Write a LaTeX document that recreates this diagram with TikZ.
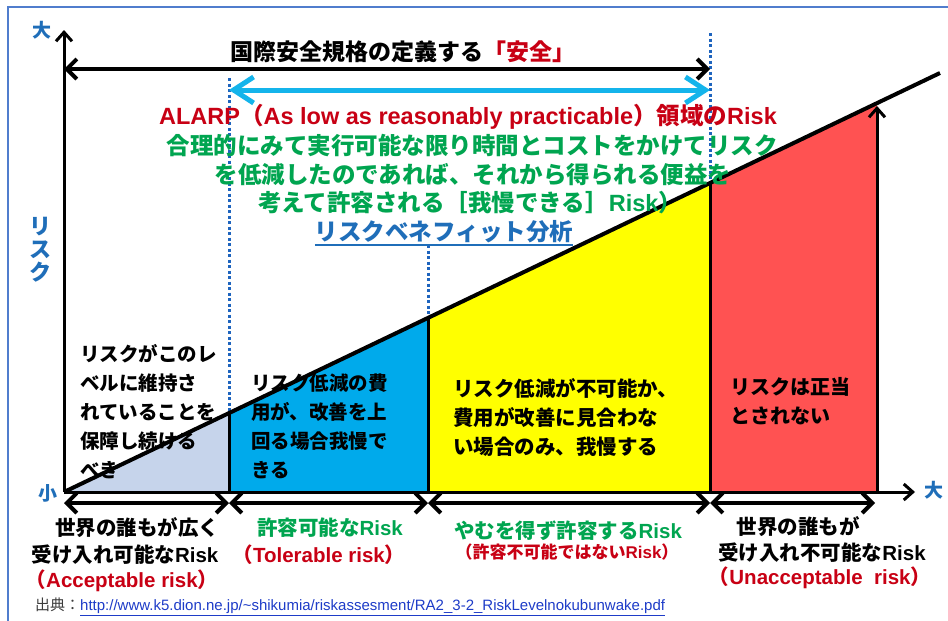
\documentclass[tikz,border=0pt]{standalone}
\usepackage{fontspec}
\setmainfont{Noto Sans CJK JP}
\newfontfamily\latf{Liberation Sans}[UprightFont={* Bold},BoldFont={* Bold}]
\newfontfamily\latr{Liberation Sans}
\newcommand{\eng}[1]{{\latf #1}}
\newcommand{\fs}[2]{\fontsize{#1}{#2}\selectfont}
\usetikzlibrary{arrows.meta}
\definecolor{jred}{RGB}{200,0,20}
\definecolor{jgreen}{RGB}{0,165,80}
\definecolor{jblue}{RGB}{31,110,185}
\definecolor{framec}{RGB}{80,125,205}
\definecolor{cyanarr}{RGB}{20,180,235}
\definecolor{accc}{RGB}{198,212,235}
\definecolor{tolc}{RGB}{0,170,235}
\definecolor{yelc}{RGB}{255,255,0}
\definecolor{unac}{RGB}{255,82,82}
\definecolor{dotc}{RGB}{30,100,190}
\definecolor{linkc}{RGB}{30,60,200}
\definecolor{srcgray}{RGB}{60,60,60}
\begin{document}
\begin{tikzpicture}[x=1pt,y=-1pt,
  axis/.style={line width=3pt,-{Straight Barb[length=9pt,width=16pt]}},
  barb/.style={line width=4pt,{Straight Barb[length=10pt,width=20pt]}-{Straight Barb[length=10pt,width=20pt]}},
  cyanbarb/.style={cyanarr,line width=5pt,{Straight Barb[length=20pt,width=26pt]}-{Straight Barb[length=20pt,width=26pt]}},
  edge/.style={line width=3pt},
  riskline/.style={line width=4pt},
  dotline/.style={dotc,line width=3pt,dash pattern=on 3pt off 2.5pt},
  txt/.style={inner sep=0pt,font=\bfseries\fs{23.5}{28}},
  region/.style={inner sep=0pt,align=left,anchor=north west,font=\bfseries\fs{19.5}{29}},
  bot/.style={inner sep=0pt,font=\bfseries\fs{20.5}{26}},
  axlbl/.style={inner sep=0pt,text=jblue,font=\bfseries\fs{19}{22}}
]
\useasboundingbox (0,0) rectangle (948,621);
\fill[white] (0,0) rectangle (948,621);
\begin{scope}
\clip (0,0) rectangle (948,621);
\draw[framec,line width=1.6pt] (8,7) rectangle (1000,700);
\end{scope}

% geometry
\coordinate (O) at (64,492);
\coordinate (Yt) at (64,30);
\coordinate (Xe) at (915,492);
\coordinate (P1) at (229,413.1);
\coordinate (P2) at (428,318);
\coordinate (P3) at (710,183.2);
\coordinate (P4) at (877,103.4);
\coordinate (P4a) at (877,106);
\coordinate (Lend) at (940,73);
\coordinate (B1) at (229,492);
\coordinate (B2) at (428,492);
\coordinate (B3) at (710,492);
\coordinate (B4) at (877,492);
\coordinate (D1t) at (229,78);
\coordinate (D2t) at (428,245);
\coordinate (D3t) at (710,33);
\coordinate (T1l) at (64,69);
\coordinate (T1r) at (710,69);
\coordinate (T2l) at (229,90);
\coordinate (T2r) at (710,90);
\coordinate (A0) at (64,503);
\coordinate (A1) at (229,503);
\coordinate (A2) at (428,503);
\coordinate (A3) at (710,503);
\coordinate (A4) at (875,503);

% regions
\fill[accc] (O) -- (P1) -- (B1) -- cycle;
\fill[tolc] (P1) -- (P2) -- (B2) -- (B1) -- cycle;
\fill[yelc] (P2) -- (P3) -- (B3) -- (B2) -- cycle;
\fill[unac] (P3) -- (P4) -- (B4) -- (B3) -- cycle;

% dotted lines
\draw[dotline] (D1t) -- (P1);
\draw[dotline] (D2t) -- (P2);
\draw[dotline] (D3t) -- (P3);

% boundaries
\draw[edge] (P1) -- (B1);
\draw[edge] (P2) -- (B2);
\draw[edge] (P3) -- (B3);
\draw[axis] (B4) -- (P4a);
\draw[riskline] (O) -- (Lend);
\draw[axis] (O) -- (Yt);
\draw[axis] (O) -- (Xe);

% arrows
\draw[barb] (T1l) -- (T1r);
\draw[cyanbarb] (T2l) -- (T2r);
\draw[barb] (A0) -- (A1);
\draw[barb] (A1) -- (A2);
\draw[barb] (A2) -- (A3);
\draw[barb] (A3) -- (A4);

% axis labels
\node[axlbl] (ybig) at (42,30) {大};
\node[axlbl] (ysmall) at (48,493) {小};
\node[axlbl] (xbig) at (934,490) {大};
\node[inner sep=0pt,text=jblue,align=center,font=\bfseries\fs{22}{23}] (risk) at (40,250) {リ\\ス\\ク};

% top texts
\node[txt,font=\bfseries\fs{23}{28}] (title) at (403,52) {国際安全規格の定義する\textcolor{jred}{「安全」}};
\node[txt,text=jred] (alarp) at (468,117) {\eng{ALARP}（\eng{As low as reasonably practicable}）領域の\eng{Risk}};
\node[txt,text=jgreen] (g1) at (472,146) {合理的にみて実行可能な限り時間とコストをかけてリスク};
\node[txt,text=jgreen] (g2) at (473,175) {を低減したのであれば、それから得られる便益を};
\node[txt,text=jgreen] (g3) at (470,203) {考えて許容される［我慢できる］\eng{Risk}）};
\node[txt,text=jblue] (rb) at (444,232) {リスクベネフィット分析};
\draw[jblue,line width=1.5pt] ([yshift=-1.5pt]rb.south west) -- ([yshift=-1.5pt]rb.south east);

% region texts
\node[region] (acc) at (80,344) {リスクがこのレ\\ベルに維持さ\\れていることを\\保障し続ける\\べき};
\node[region] (tol) at (251,374) {リスク低減の費\\用が、改善を上\\回る場合我慢で\\きる};
\node[region,font=\bfseries\fs{20.5}{29}] (alw) at (453,378) {リスク低減が不可能か、\\費用が改善に見合わな\\い場合のみ、我慢する};
\node[region,font=\bfseries\fs{20}{29}] (una) at (730,377) {リスクは正当\\とされない};

% bottom labels
\node[bot] (b1a) at (137,528) {世界の誰もが広く};
\node[bot] (b1b) at (125,555) {受け入れ可能な\eng{Risk}};
\node[bot,text=jred] (b1c) at (122,581) {（\eng{Acceptable risk}）};
\node[bot,text=jgreen] (b2a) at (330,528) {許容可能な\eng{Risk}};
\node[bot,text=jred] (b2b) at (319,555) {（\eng{Tolerable risk}）};
\node[bot,text=jgreen] (b3a) at (568,531) {やむを得ず許容する\eng{Risk}};
\node[bot,text=jred,font=\bfseries\fs{17}{20}] (b3b) at (567,552) {（許容不可能ではない\eng{Risk}）};
\node[bot] (b4a) at (798,527) {世界の誰もが};
\node[bot] (b4b) at (822,553) {受け入れ不可能な\eng{Risk}};
\node[bot,text=jred] (b4c) at (820,578) {（\eng{Unacceptable\ \ risk}）};

% source
\node[anchor=west,inner sep=0pt,font=\fs{15}{18}] (src) at (35,607) {\textcolor{srcgray}{出典：}\textcolor{linkc}{\latr\underline{http://www.k5.dion.ne.jp/\textasciitilde shikumia/riskassesment/RA2\_3-2\_RiskLevelnokubunwake.pdf}}};
\end{tikzpicture}
\end{document}
